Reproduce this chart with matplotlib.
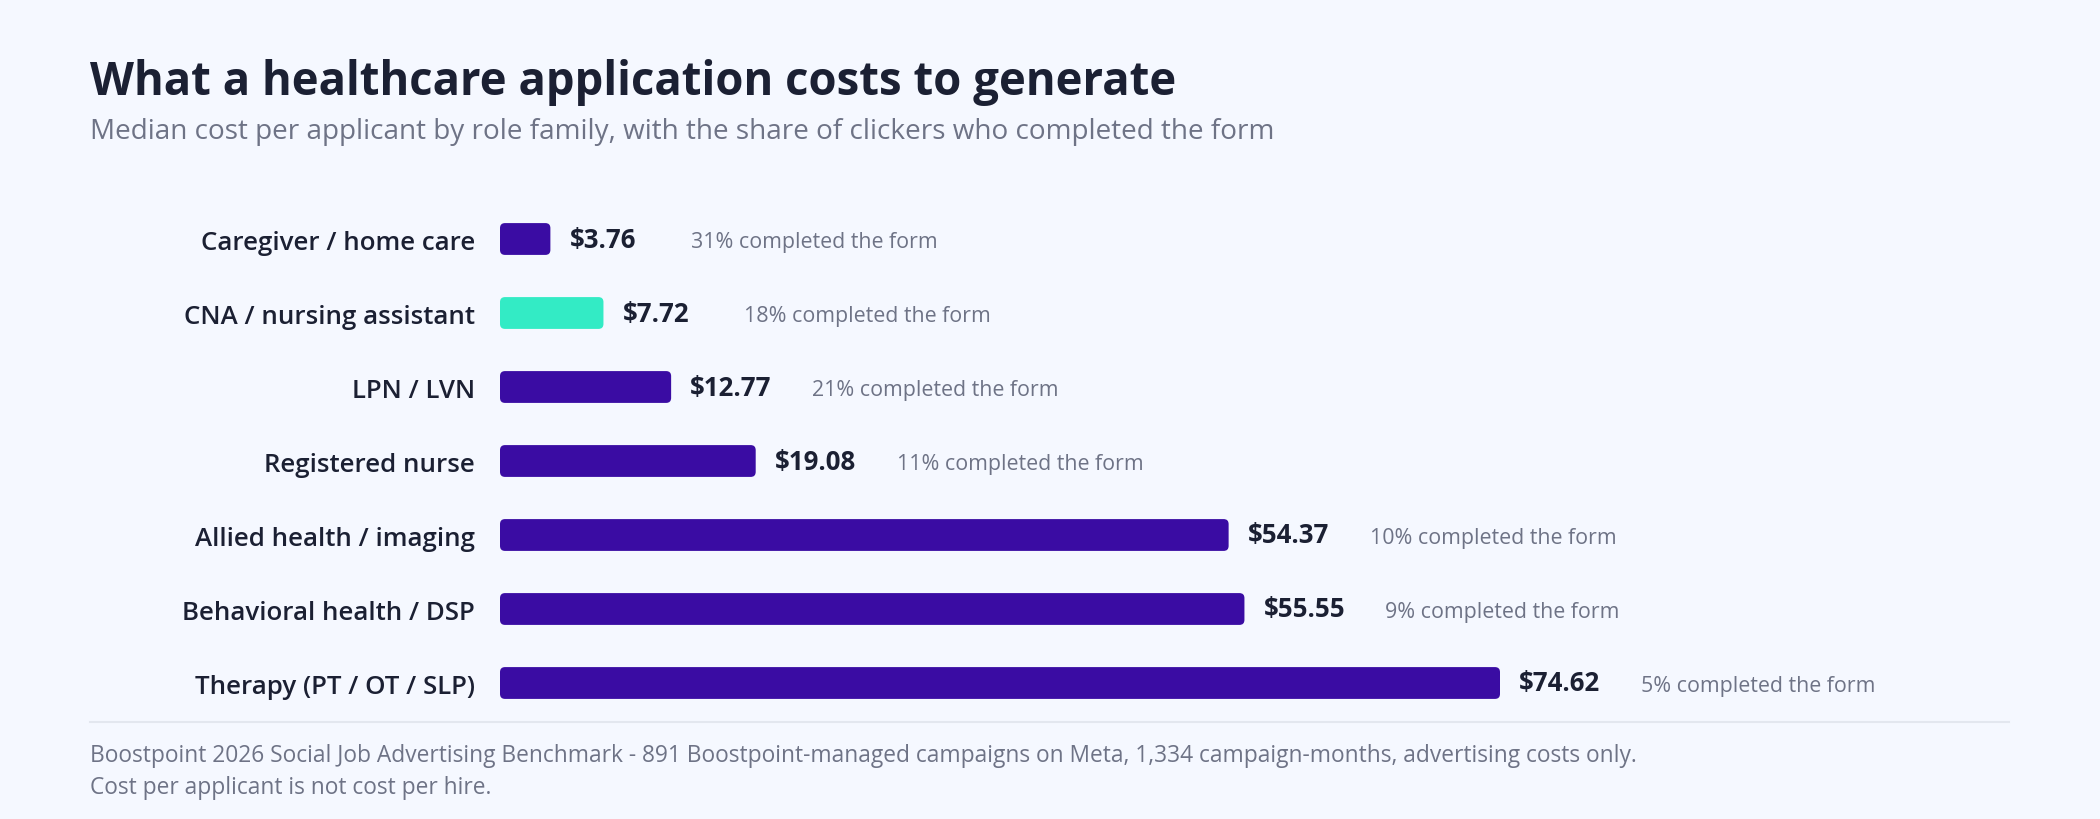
import matplotlib
matplotlib.use("Agg")
import matplotlib.pyplot as plt
from matplotlib.patches import FancyBboxPatch
from matplotlib.transforms import offset_copy

categories = ["Caregiver / home care", "CNA / nursing assistant", "LPN / LVN",
              "Registered nurse", "Allied health / imaging",
              "Behavioral health / DSP", "Therapy (PT / OT / SLP)"]
costs = [3.76, 7.72, 12.77, 19.08, 54.37, 55.55, 74.62]
completion = [31, 18, 21, 11, 10, 9, 5]
highlight = "CNA / nursing assistant"

title = "What a healthcare application costs to generate"
subtitle = "Median cost per applicant by role family, with the share of clickers who completed the form"
footer = ["Boostpoint 2026 Social Job Advertising Benchmark - 891 Boostpoint-managed campaigns on Meta, 1,334 campaign-months, advertising costs only.",
          "Cost per applicant is not cost per hire."]

BG = "#f5f8ff"
BAR = "#3a0ca3"
TEAL = "#33ebc5"
DARK = "#1b2033"
GREY = "#6e7386"
FONT = "Open Sans"

W, H = 2100, 820
fig = plt.figure(figsize=(W / 100, H / 100), dpi=100, facecolor=BG)

def fx(px):
    return px / W

def fy(py):
    return 1 - py / H

fig.text(fx(90), fy(83), title, fontsize=32.8, fontweight="bold", color=DARK,
         family=FONT, va="center", ha="left")
fig.text(fx(90), fy(132), subtitle, fontsize=20.1, color=GREY,
         family=FONT, va="center", ha="left")

ax_left, ax_right = 500, 1500
ax_top, ax_bot = 203, 721
ax = fig.add_axes([fx(ax_left), fy(ax_bot), fx(ax_right - ax_left), (ax_bot - ax_top) / H])
ax.set_facecolor("none")
ax.set_xlim(0, max(costs))
ax.set_ylim(len(categories) - 0.5, -0.5)
for s in ax.spines.values():
    s.set_visible(False)
ax.set_xticks([])
ax.set_yticks(range(len(categories)))
ax.set_yticklabels(categories, fontsize=18.6, fontweight="semibold", color=DARK, family=FONT)
ax.tick_params(axis="y", length=0, pad=18)

bar_h = 0.43
bars = ax.barh(range(len(categories)), costs, height=bar_h, color="none")
px_per_x = (ax_right - ax_left) / max(costs)
px_per_y = (ax_bot - ax_top) / len(categories)
aspect = px_per_x / px_per_y
for i, (b, cat) in enumerate(zip(bars, categories)):
    b.set_visible(False)
    x0, y0, w, h = b.get_x(), b.get_y(), b.get_width(), b.get_height()
    p = FancyBboxPatch((x0, y0), w, h,
                       boxstyle=f"round,pad=0,rounding_size={5 / px_per_x}",
                       mutation_aspect=aspect,
                       facecolor=TEAL if cat == highlight else BAR,
                       edgecolor="none")
    ax.add_patch(p)

val_tr = offset_copy(ax.transData, fig=fig, x=19, y=0, units="dots")
comp_tr = offset_copy(ax.transData, fig=fig, x=141, y=0, units="dots")
for i, (c, pct) in enumerate(zip(costs, completion)):
    ax.text(c, i, f"${c:.2f}", transform=val_tr, fontsize=18.6, fontweight="bold",
            color=DARK, family=FONT, va="center", ha="left", clip_on=False)
    ax.text(c, i + 0.03, f"{pct}% completed the form", transform=comp_tr, fontsize=15.4,
            color=GREY, family=FONT, va="center", ha="left", clip_on=False)

fig.add_artist(plt.Line2D([fx(90), fx(2009)], [fy(723), fy(723)], color="#e3e7ef", lw=1.5))
fig.text(fx(90), fy(756), footer[0], fontsize=16.4, color=GREY, family=FONT, va="center", ha="left")
fig.text(fx(90), fy(788), footer[1], fontsize=16.4, color=GREY, family=FONT, va="center", ha="left")

fig.savefig("out.png", dpi=100, facecolor=BG)
